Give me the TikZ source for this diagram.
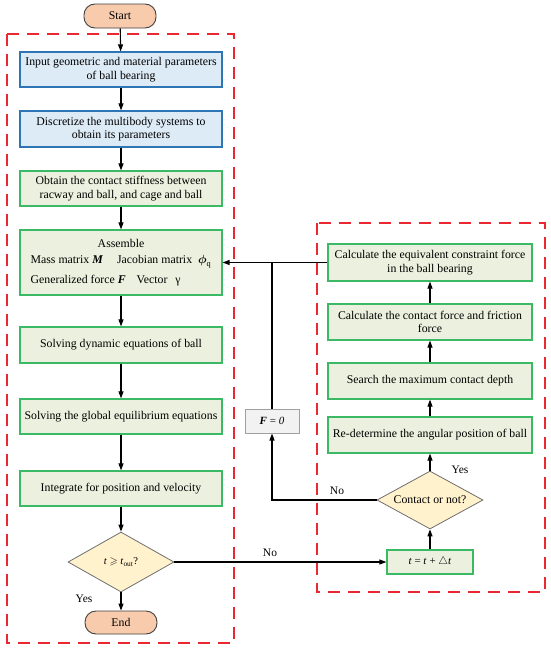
\documentclass[tikz,border=0pt]{standalone}
\usepackage{amsmath,amssymb}
\usepackage{fontspec}
\setmainfont{Liberation Serif}
\usetikzlibrary{shapes.geometric,arrows.meta,calc}
\definecolor{bluebd}{RGB}{46,117,182}
\definecolor{bluefill}{RGB}{221,235,247}
\definecolor{greenbd}{RGB}{60,185,100}
\definecolor{greenfill}{RGB}{235,241,222}
\definecolor{termfill}{RGB}{248,203,173}
\definecolor{termbd}{RGB}{64,64,64}
\definecolor{decfill}{RGB}{255,242,204}
\definecolor{decbd}{RGB}{110,110,110}
\definecolor{grayfill}{RGB}{242,242,242}
\definecolor{graybd}{RGB}{160,160,160}
\definecolor{redd}{RGB}{235,40,50}
\begin{document}
\begin{tikzpicture}[x=1pt,y=-1pt,
  every node/.style={font=\fontsize{11.8}{13.5}\selectfont, inner sep=0pt, align=center},
  term/.style={draw=termbd, fill=termfill, line width=0.9pt, rounded corners=11pt, minimum width=72pt, minimum height=24pt},
  bluebox/.style={draw=bluebd, fill=bluefill, line width=1.2pt, minimum width=202pt},
  greenbox/.style={draw=greenbd, fill=greenfill, line width=1.2pt, minimum width=202pt},
  rbox/.style={draw=greenbd, fill=greenfill, line width=1.2pt, minimum width=204pt, minimum height=36pt},
  dec/.style={diamond, draw=decbd, fill=decfill, line width=0.8pt, minimum width=106pt, minimum height=60pt, aspect=1.77},
  graybox/.style={draw=graybd, fill=grayfill, line width=1pt, minimum width=54pt, minimum height=24pt},
  frame/.style={draw=redd, line width=1.3pt, dash pattern=on 12pt off 8pt},
  arr/.style={-{Triangle[length=7pt,width=5pt]}, line width=1.1pt, black},
  ln/.style={line width=1.1pt, black},
  lab/.style={font=\fontsize{11.5}{13}\selectfont}
]
\useasboundingbox (0,0) rectangle (550,648);
% frames
\draw[frame] (7,34) rectangle (234,643);
\draw[frame] (317,223) rectangle (545,592);
% left column
\node[term] (start) at (120,16) {Start};
\node[bluebox, minimum height=35pt] (b1) at (121,69.5) {Input geometric and material parameters\\ of ball bearing};
\node[bluebox, minimum height=36pt] (b2) at (121,129) {Discretize the multibody systems to\\ obtain its parameters};
\node[greenbox, minimum height=35pt] (b3) at (121,188.5) {Obtain the contact stiffness between\\ racway and ball, and cage and ball};
\node[greenbox, minimum height=65pt] (b4) at (121,262.5) {%
  \begin{tabular}{@{}l@{}}\multicolumn{1}{@{}c@{}}{Assemble}\\[2.5pt]
  Mass matrix \textbf{\textit{M}}\hspace{14pt}Jacobian matrix\hspace{6pt}$\boldsymbol{\phi}_{\mathrm{q}}$\\[6.5pt]
  Generalized force \textbf{\textit{F}}\hspace{11pt}Vector\hspace{8pt}γ\end{tabular}};
\node[greenbox, minimum height=36pt] (b5) at (121,345) {Solving dynamic equations of ball};
\node[greenbox, minimum height=35pt] (b6) at (121,416.5) {Solving the global equilibrium equations};
\node[greenbox, minimum height=35pt] (b7) at (121,488.5) {Integrate for position and velocity};
\node[dec] (d1) at (121,562) {\fontsize{10.5}{12}\selectfont\textit{t} $\geqslant$ \textit{t}\textsubscript{out}?};
\node[term, minimum height=23pt] (end) at (121,622.5) {End};
% right column
\node[rbox, minimum height=37pt] (r1) at (430,262.5) {Calculate the equivalent constraint force\\ in the ball bearing};
\node[rbox] (r2) at (430,322) {Calculate the contact force and friction\\ force};
\node[rbox] (r3) at (430,381) {Search the maximum contact depth};
\node[rbox] (r4) at (430,435) {Re-determine the angular position of ball};
\node[dec, minimum height=58pt, aspect=1.83] (d2) at (430,500) {Contact or not?};
\node[draw=greenbd, fill=greenfill, line width=1.2pt, minimum width=86pt, minimum height=24pt] (tb) at (430,562) {\fontsize{11}{12}\selectfont\textit{t} = \textit{t} + $\triangle$\textit{t}};
\node[graybox] (f0) at (272,421) {\fontsize{11}{12}\selectfont\textbf{\textit{F}} = \textit{0}};
% connectors
\draw[arr] (start) -- (b1);
\draw[arr] (b1) -- (b2);
\draw[arr] (b2) -- (b3);
\draw[arr] (b3) -- (b4);
\draw[arr] (b4) -- (b5);
\draw[arr] (b5) -- (b6);
\draw[arr] (b6) -- (b7);
\draw[arr] (b7) -- (d1);
\draw[arr] (d1) -- (end);
\draw[arr] (d1.east) -- (tb.west);
\draw[arr] (tb) -- (d2);
\draw[arr] (d2) -- (r4);
\draw[arr] (r4) -- (r3);
\draw[arr] (r3) -- (r2);
\draw[arr] (r2) -- (r1);
\draw[arr] (r1.west) -- (b4.east);
\coordinate (jn) at (f0.north |- r1.west);
\draw[ln] (f0.north) -- (jn);
\draw[arr] (d2.west) -| (f0.south);
% labels
\node[lab] (yes1) at (84,599) {Yes};
\node[lab] (no1) at (270,553) {No};
\node[lab] (no2) at (337,491) {No};
\node[lab] (yes2) at (460,470) {Yes};
\end{tikzpicture}
\end{document}
